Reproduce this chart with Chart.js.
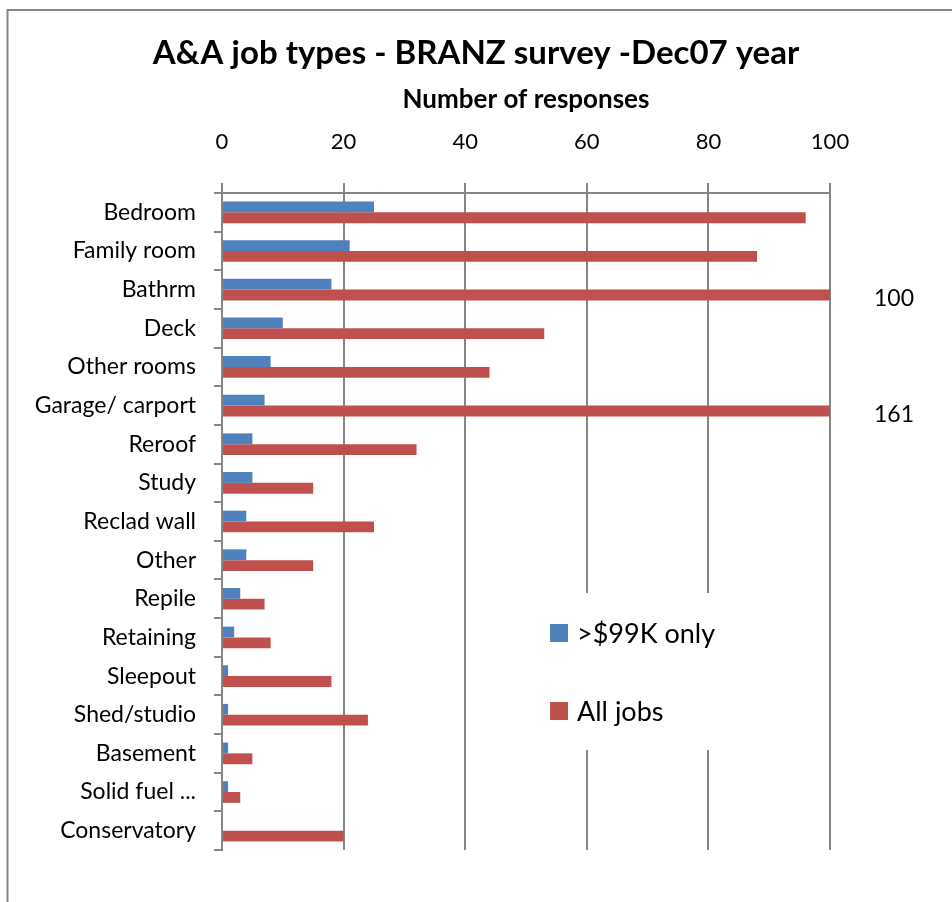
<!DOCTYPE html>
<html>
<head>
<meta charset="utf-8">
<title>A&amp;A job types</title>
<script src="https://cdn.jsdelivr.net/npm/chart.js@4.4.1/dist/chart.umd.min.js"></script>
<style>
  html, body { margin: 0; padding: 0; background: #fff; }
  #wrap { width: 952px; height: 902px; }
</style>
</head>
<body>
<div id="wrap"><canvas id="canva1" width="952" height="902"></canvas></div>
<script>
// job types, top to bottom
const categorias = ["Bedroom", "Family room", "Bathrm", "Deck", "Other rooms", "Garage/ carport",
    "Reroof", "Study", "Reclad wall", "Other", "Repile", "Retaining", "Sleepout",
    "Shed/studio", "Basement", "Solid fuel ...", "Conservatory"];
const grandes = [25, 21, 18, 10, 8, 7, 5, 5, 4, 4, 3, 2, 1, 1, 1, 1, 0];
const todos = [96, 88, 100, 53, 44, 161, 32, 15, 25, 15, 7, 8, 18, 24, 5, 3, 20];
const ticksX = [0, 20, 40, 60, 80, 100];

const gris = "#868686";
const fuente = "Lato, 'Open Sans', sans-serif";

// outer frame (left and top edges)
const marco = {
    id: "marco",
    beforeDraw(chart){
        let ctx = chart.ctx;
        ctx.save();
        ctx.strokeStyle = gris;
        ctx.lineWidth = 2;
        ctx.beginPath();
        ctx.moveTo(7.5, chart.height);
        ctx.lineTo(7.5, 10);
        ctx.lineTo(chart.width, 10);
        ctx.stroke();
        ctx.restore();
    }
};

// bars that reach the end of the axis get their value written to the right
const fueraDeEscala = {
    id: "fueraDeEscala",
    afterDatasetsDraw(chart){
        let ctx = chart.ctx;
        let max = chart.scales.x.max;
        ctx.save();
        ctx.fillStyle = "#000";
        ctx.font = "23px " + fuente;
        ctx.textAlign = "left";
        ctx.textBaseline = "middle";
        chart.data.datasets.forEach(function(ds, i){
            let meta = chart.getDatasetMeta(i);
            ds.data.forEach(function(v, j){
                if(v >= max){
                    ctx.fillText(String(v), chart.chartArea.right + 44, meta.data[j].y + 4);
                }
            });
        });
        ctx.restore();
    }
};

// legend box sitting inside the plot
const leyenda = {
    id: "leyenda",
    afterDatasetsDraw(chart){
        let ctx = chart.ctx;
        let a = chart.chartArea;
        let x0 = a.left + 314, y0 = 593;
        ctx.save();
        ctx.fillStyle = "#fff";
        ctx.fillRect(x0, y0, 190, 157);
        ctx.font = "27px " + fuente;
        ctx.textAlign = "left";
        ctx.textBaseline = "middle";
        chart.data.datasets.forEach(function(ds, i){
            let cy = 633 + i * 78;
            ctx.fillStyle = ds.backgroundColor;
            ctx.fillRect(x0 + 14, cy - 9, 18, 18);
            ctx.fillStyle = "#000";
            ctx.fillText(ds.label, x0 + 41, cy + 1);
        });
        ctx.restore();
    }
};

window.onload = function(){
    let canva1 = document.getElementById("canva1").getContext("2d");
    let grafico = new Chart(canva1, {
        type: "bar",
        data: {
            labels: categorias,
            datasets: [{
                label: ">$99K only",
                data: grandes,
                backgroundColor: "#4F81BD"
            }, {
                label: "All jobs",
                data: todos,
                backgroundColor: "#C0504D"
            }]
        },
        options: {
            indexAxis: "y",
            responsive: false,
            animation: false,
            categoryPercentage: 0.56,
            barPercentage: 1.0,
            layout: {
                padding: { left: 0, right: 0, top: 0, bottom: 52 }
            },
            plugins: {
                legend: { display: false },
                tooltip: { enabled: false },
                title: {
                    display: true,
                    text: "A&A job types - BRANZ survey -Dec07 year",
                    color: "#000",
                    font: { family: fuente, size: 33, weight: "bold" },
                    padding: { top: 34, bottom: 0 }
                }
            },
            scales: {
                x: {
                    position: "top",
                    min: 0,
                    max: 100,
                    afterBuildTicks(scale){
                        scale.ticks = ticksX.map(v => ({ value: v }));
                    },
                    afterFit(scale){
                        scale.height = 119.4;
                    },
                    title: {
                        display: true,
                        text: "Number of responses",
                        color: "#000",
                        font: { family: fuente, size: 26, weight: "bold" },
                        padding: { top: 10, bottom: 0 }
                    },
                    ticks: {
                        color: "#000",
                        padding: 28,
                        font: { family: fuente, size: 22 }
                    },
                    grid: {
                        color: gris,
                        lineWidth: 2,
                        tickLength: 10
                    },
                    border: { color: gris, width: 2 }
                },
                y: {
                    afterFit(scale){
                        scale.width = 222;
                    },
                    ticks: {
                        color: "#000",
                        padding: 18,
                        autoSkip: false,
                        font: { family: fuente, size: 23 }
                    },
                    grid: {
                        offset: true,
                        drawOnChartArea: false,
                        color: gris,
                        lineWidth: 2,
                        tickLength: 8
                    },
                    border: { color: gris, width: 2 }
                },
                // empty right-hand margin where the overflow values sit
                margen: {
                    type: "category",
                    position: "right",
                    labels: [""],
                    afterFit(scale){
                        scale.width = 122;
                    },
                    ticks: { display: false },
                    grid: { display: false },
                    border: { display: false }
                }
            }
        },
        plugins: [marco, fueraDeEscala, leyenda]
    });
};
</script>
</body>
</html>
